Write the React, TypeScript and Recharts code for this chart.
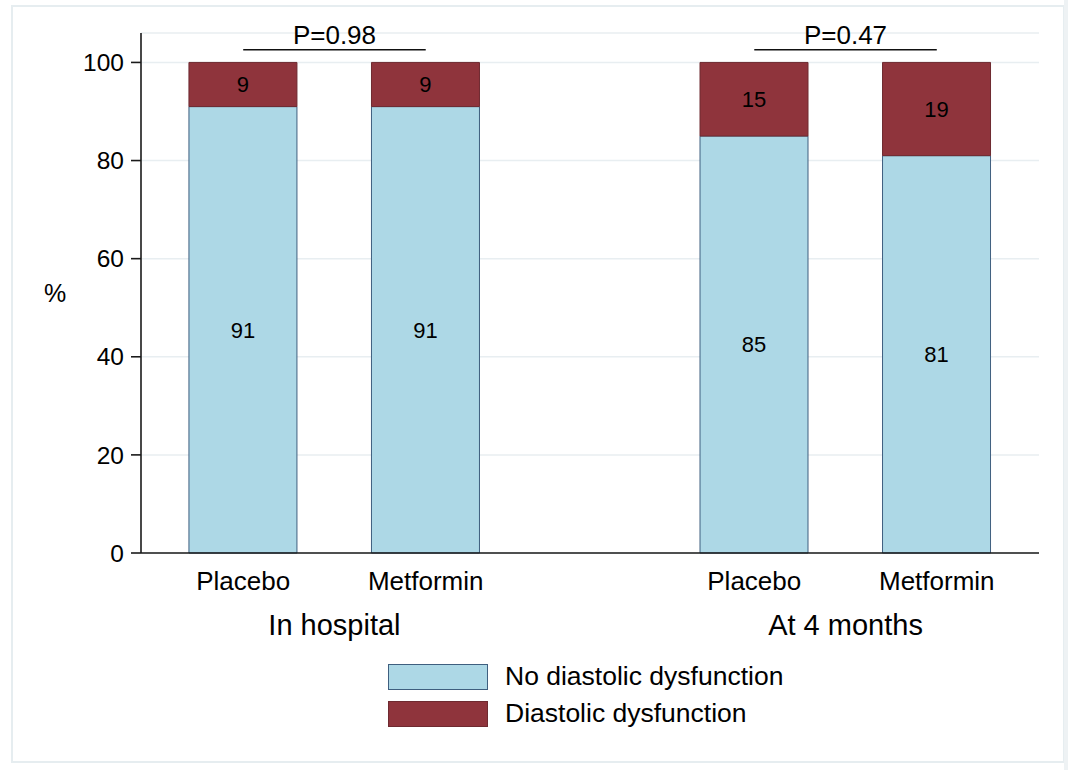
import React from "react";
import {
	BarChart,
	Bar,
	XAxis,
	YAxis,
	CartesianGrid,
	Legend,
	LabelList,
	ReferenceLine,
} from "recharts";

const groups = ["In hospital", "At 4 months"];
const treatments = ["Placebo", "Metformin"];
const noDysfunction = [
	[91, 91],
	[85, 81],
];
const dysfunction = [
	[9, 9],
	[15, 19],
];
const pValues = ["P=0.98", "P=0.47"];
const yTicks = [0, 20, 40, 60, 80, 100];

// spacing of the bars on the numeric x axis (1 unit = distance between bars in a group)
const GROUP_STEP = 2.8;
const PAD = 0.56;
const BRACKET_Y = 102.6;

const BLUE = "#add8e6";
const BLUE_EDGE = "#3f5f7f";
const RED = "#8f343c";
const RED_EDGE = "#6e2a30";
const FONT = "'Liberation Sans', Arial, sans-serif";

const rows = groups.flatMap((group, gi) =>
	treatments.map((treatment, ti) => ({
		pos: gi * GROUP_STEP + ti,
		group,
		treatment,
		no: noDysfunction[gi][ti],
		yes: dysfunction[gi][ti],
	})),
);

const barTicks = rows.map((r) => r.pos);
const groupTicks = groups.map((_, gi) => gi * GROUP_STEP + 0.5);
const xDomain = [-PAD, GROUP_STEP + 1 + PAD];

const series = [
	{ key: "no", name: "No diastolic dysfunction", fill: BLUE, stroke: BLUE_EDGE },
	{ key: "yes", name: "Diastolic dysfunction", fill: RED, stroke: RED_EDGE },
];

function TreatmentTick(props: any) {
	const { x, y, index } = props;
	return (
		<text x={x} y={y} dy={37} textAnchor="middle" fontSize={26} fill="#000">
			{rows[index]?.treatment}
		</text>
	);
}

function GroupTick(props: any) {
	const { x, y, index } = props;
	return (
		<text x={x} y={y} dy={37} textAnchor="middle" fontSize={29} fill="#000">
			{groups[index]}
		</text>
	);
}

function PercentLabel(props: any) {
	const vb = props.viewBox || { x: 40 };
	return (
		<text x={vb.x + 15} y={302} textAnchor="middle" fontSize={25} fill="#000">
			%
		</text>
	);
}

function renderLegend() {
	return (
		<div style={{ fontFamily: FONT }}>
			{series.map((s) => (
				<div
					key={s.key}
					style={{ display: "flex", alignItems: "center", height: 37 }}
				>
					<span
						style={{
							display: "inline-block",
							width: 98,
							height: 24,
							background: s.fill,
							border: `1px solid ${s.stroke}`,
						}}
					/>
					<span style={{ marginLeft: 17, fontSize: 26.5, color: "#000" }}>
						{s.name}
					</span>
				</div>
			))}
		</div>
	);
}

export default function App() {
	return (
		<div
			style={{
				position: "absolute",
				left: 0,
				top: 0,
				width: 1068,
				height: 770,
				background: "#fff",
				fontFamily: FONT,
				overflow: "hidden",
			}}
		>
			<div
				style={{
					position: "absolute",
					left: 11,
					top: 5,
					width: 1050,
					height: 754,
					border: "2px solid #e6edf0",
				}}
			/>
			<div
				style={{
					position: "absolute",
					left: 1064,
					top: 0,
					width: 4,
					height: 770,
					background: "#eef2f4",
				}}
			/>
			<div style={{ position: "absolute", left: 0, top: 0 }}>
				<BarChart
					width={1068}
					height={770}
					data={rows}
					margin={{ top: 33, right: 29, left: 40, bottom: 122 }}
				>
					<CartesianGrid
						vertical={false}
						stroke="#e8eef1"
						strokeWidth={1.5}
					/>
					<XAxis
						dataKey="pos"
						type="number"
						domain={xDomain}
						allowDataOverflow
						ticks={barTicks}
						interval={0}
						tickLine={false}
						tickSize={0}
						tickMargin={0}
						height={45}
						axisLine={{ stroke: "#1a1a1a", strokeWidth: 1.6 }}
						tick={<TreatmentTick />}
					/>
					<XAxis
						xAxisId="group"
						dataKey="pos"
						type="number"
						domain={xDomain}
						allowDataOverflow
						ticks={groupTicks}
						interval={0}
						tickLine={false}
						tickSize={0}
						tickMargin={0}
						height={50}
						axisLine={false}
						tick={<GroupTick />}
					/>
					<YAxis
						domain={[0, 106]}
						ticks={yTicks}
						interval={0}
						width={101}
						tickSize={10}
						tickMargin={7}
						axisLine={{ stroke: "#1a1a1a", strokeWidth: 1.6 }}
						tickLine={{ stroke: "#1a1a1a", strokeWidth: 1.6 }}
						tick={{ fill: "#000", fontSize: 24.5 }}
						label={<PercentLabel />}
					/>
					{series.map((s) => (
						<Bar
							key={s.key}
							dataKey={s.key}
							name={s.name}
							stackId="a"
							fill={s.fill}
							stroke={s.stroke}
							strokeWidth={1}
							barSize={108}
							isAnimationActive={false}
						>
							<LabelList
								dataKey={s.key}
								position="center"
								fill="#000"
								fontSize={22}
							/>
						</Bar>
					))}
					{pValues.map((p, gi) => (
						<ReferenceLine
							key={p}
							segment={[
								{ x: gi * GROUP_STEP, y: BRACKET_Y },
								{ x: gi * GROUP_STEP + 1, y: BRACKET_Y },
							]}
							stroke="#111"
							strokeWidth={1.6}
							label={{
								value: p,
								position: "top",
								fill: "#000",
								fontSize: 26,
								offset: 6,
							}}
						/>
					))}
					<Legend
						layout="vertical"
						align="center"
						verticalAlign="middle"
						content={renderLegend}
						wrapperStyle={{ left: 388, top: 658, width: 480 }}
					/>
				</BarChart>
			</div>
		</div>
	);
}
